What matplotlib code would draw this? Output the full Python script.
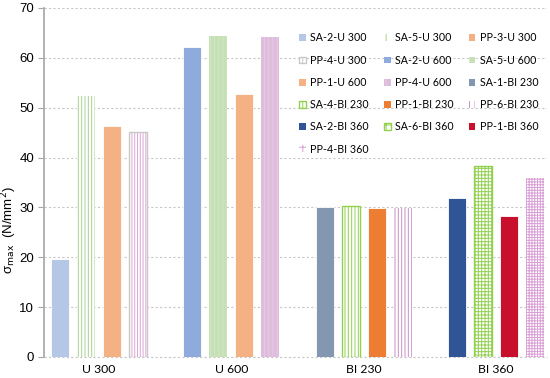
import matplotlib
matplotlib.use("Agg")
import matplotlib.pyplot as plt
from matplotlib.patches import Patch

plt.rcParams["hatch.linewidth"] = 0.7

# 数据
groups = ["U 300", "U 600", "BI 230", "BI 360"]
series_names = [
    ["SA-2-U 300", "SA-5-U 300", "PP-3-U 300", "PP-4-U 300"],
    ["SA-2-U 600", "SA-5-U 600", "PP-1-U 600", "PP-4-U 600"],
    ["SA-1-BI 230", "SA-4-BI 230", "PP-1-BI 230", "PP-6-BI 230"],
    ["SA-2-BI 360", "SA-6-BI 360", "PP-1-BI 360", "PP-4-BI 360"],
]
sigma_max = [
    [19.7, 52.3, 46.4, 45.2],
    [62.2, 64.3, 52.8, 64.1],
    [30.1, 30.2, 29.9, 29.9],
    [31.9, 38.4, 28.3, 35.9],
]

# 样式: (填充色, 阴影颜色, 阴影, 边框色)
styles = [
    [("#B4C7E7", None, None, None), ("white", "#A9D18E", "|||||", None),
     ("#F4B183", None, None, None), ("white", "#D9A6D6", "||||||", "#C8C8C8")],
    [("#8FAADC", None, None, None), ("#C5E0B4", "#D3E8C6", "||||", None),
     ("#F4B183", None, None, None), ("#DDBDDB", "#E6CAE4", "||||", None)],
    [("#8497B0", None, None, None), ("white", "#92D050", "|||||", "#92D050"),
     ("#ED7D31", None, None, None), ("white", "#C88FC5", "|||||", None)],
    [("#2F5597", None, None, None), ("white", "#92D050", "+++++", "#92D050"),
     ("#C8102E", None, None, None), ("white", "#D9A0D6", "++++++", None)],
]

offsets = [-0.295, -0.098, 0.098, 0.295]
bar_w = 0.136
narrow = ["Liberation Sans Narrow", "Lato", "DejaVu Sans"]

fig = plt.figure(figsize=(5.5, 3.78), dpi=100)
ax = fig.add_axes([0.08, 0.0556, 0.9145, 0.9234])

handles = []
for gi, grp in enumerate(groups):
    for si in range(4):
        fc, hc, hatch, ec = styles[gi][si]
        x = gi + offsets[si]
        v = sigma_max[gi][si]
        if hatch:
            ax.bar(x, v, width=bar_w, color=fc, edgecolor=hc, hatch=hatch, linewidth=0, zorder=3)
            if ec:
                ax.bar(x, v, width=bar_w, fill=False, edgecolor=ec, linewidth=1.0, zorder=4)
                h = Patch(facecolor=fc, edgecolor=ec, hatch=hatch[:3], linewidth=1.0)
            else:
                h = Patch(facecolor=fc, edgecolor=hc, hatch=hatch[:3], linewidth=0)
        else:
            ax.bar(x, v, width=bar_w, color=fc, edgecolor="white", linewidth=0.6, zorder=3)
            h = Patch(facecolor=fc, edgecolor=fc, linewidth=0)
        handles.append((h, series_names[gi][si]))

# 图例按行排列 (matplotlib 按列填充)
order = [i for c in range(3) for i in range(c, len(handles), 3)]
handles = [handles[i] for i in order]

ax.set_xlim(-0.415, 3.385)
ax.set_ylim(0, 70)
ax.set_yticks(range(0, 71, 10))
ax.set_xticks(range(len(groups)))
ax.set_xticklabels(groups, fontsize=8.8, family=narrow)
ax.tick_params(axis="x", length=0, pad=5)
ax.tick_params(axis="y", direction="out", length=4, color="#A6A6A6", labelsize=9.5, pad=3)
for lab in ax.get_yticklabels():
    lab.set_family("Liberation Sans")

ax.grid(True, axis="y", color="#C8C8C8", linestyle=(0, (2, 2)), linewidth=0.8, zorder=0)
ax.set_axisbelow(True)
for s in ["top", "right", "bottom"]:
    ax.spines[s].set_visible(False)
ax.spines["left"].set_color("#A6A6A6")
ax.spines["left"].set_linewidth(1.2)
ax.spines["left"].set_zorder(5)
ax.axhline(0, color="#C8C8C8", linestyle=(0, (2, 2)), linewidth=0.8, zorder=2, clip_on=False)

ax.set_ylabel("σ$_{\\mathrm{max}}$  (N/mm$^2$)", fontsize=9.5, family="Liberation Sans")
ax.yaxis.set_label_coords(-0.050, 0.365)

leg = ax.legend([h for h, _ in handles], [n for _, n in handles], ncol=3,
                loc="upper left", bbox_to_anchor=(0.499, 0.942), frameon=False,
                prop={"family": narrow, "size": 7.7},
                handlelength=0.6, handleheight=0.6, handletextpad=0.45,
                columnspacing=1.4, labelspacing=1.05, borderaxespad=0)

fig.savefig("out.png", dpi=100)
